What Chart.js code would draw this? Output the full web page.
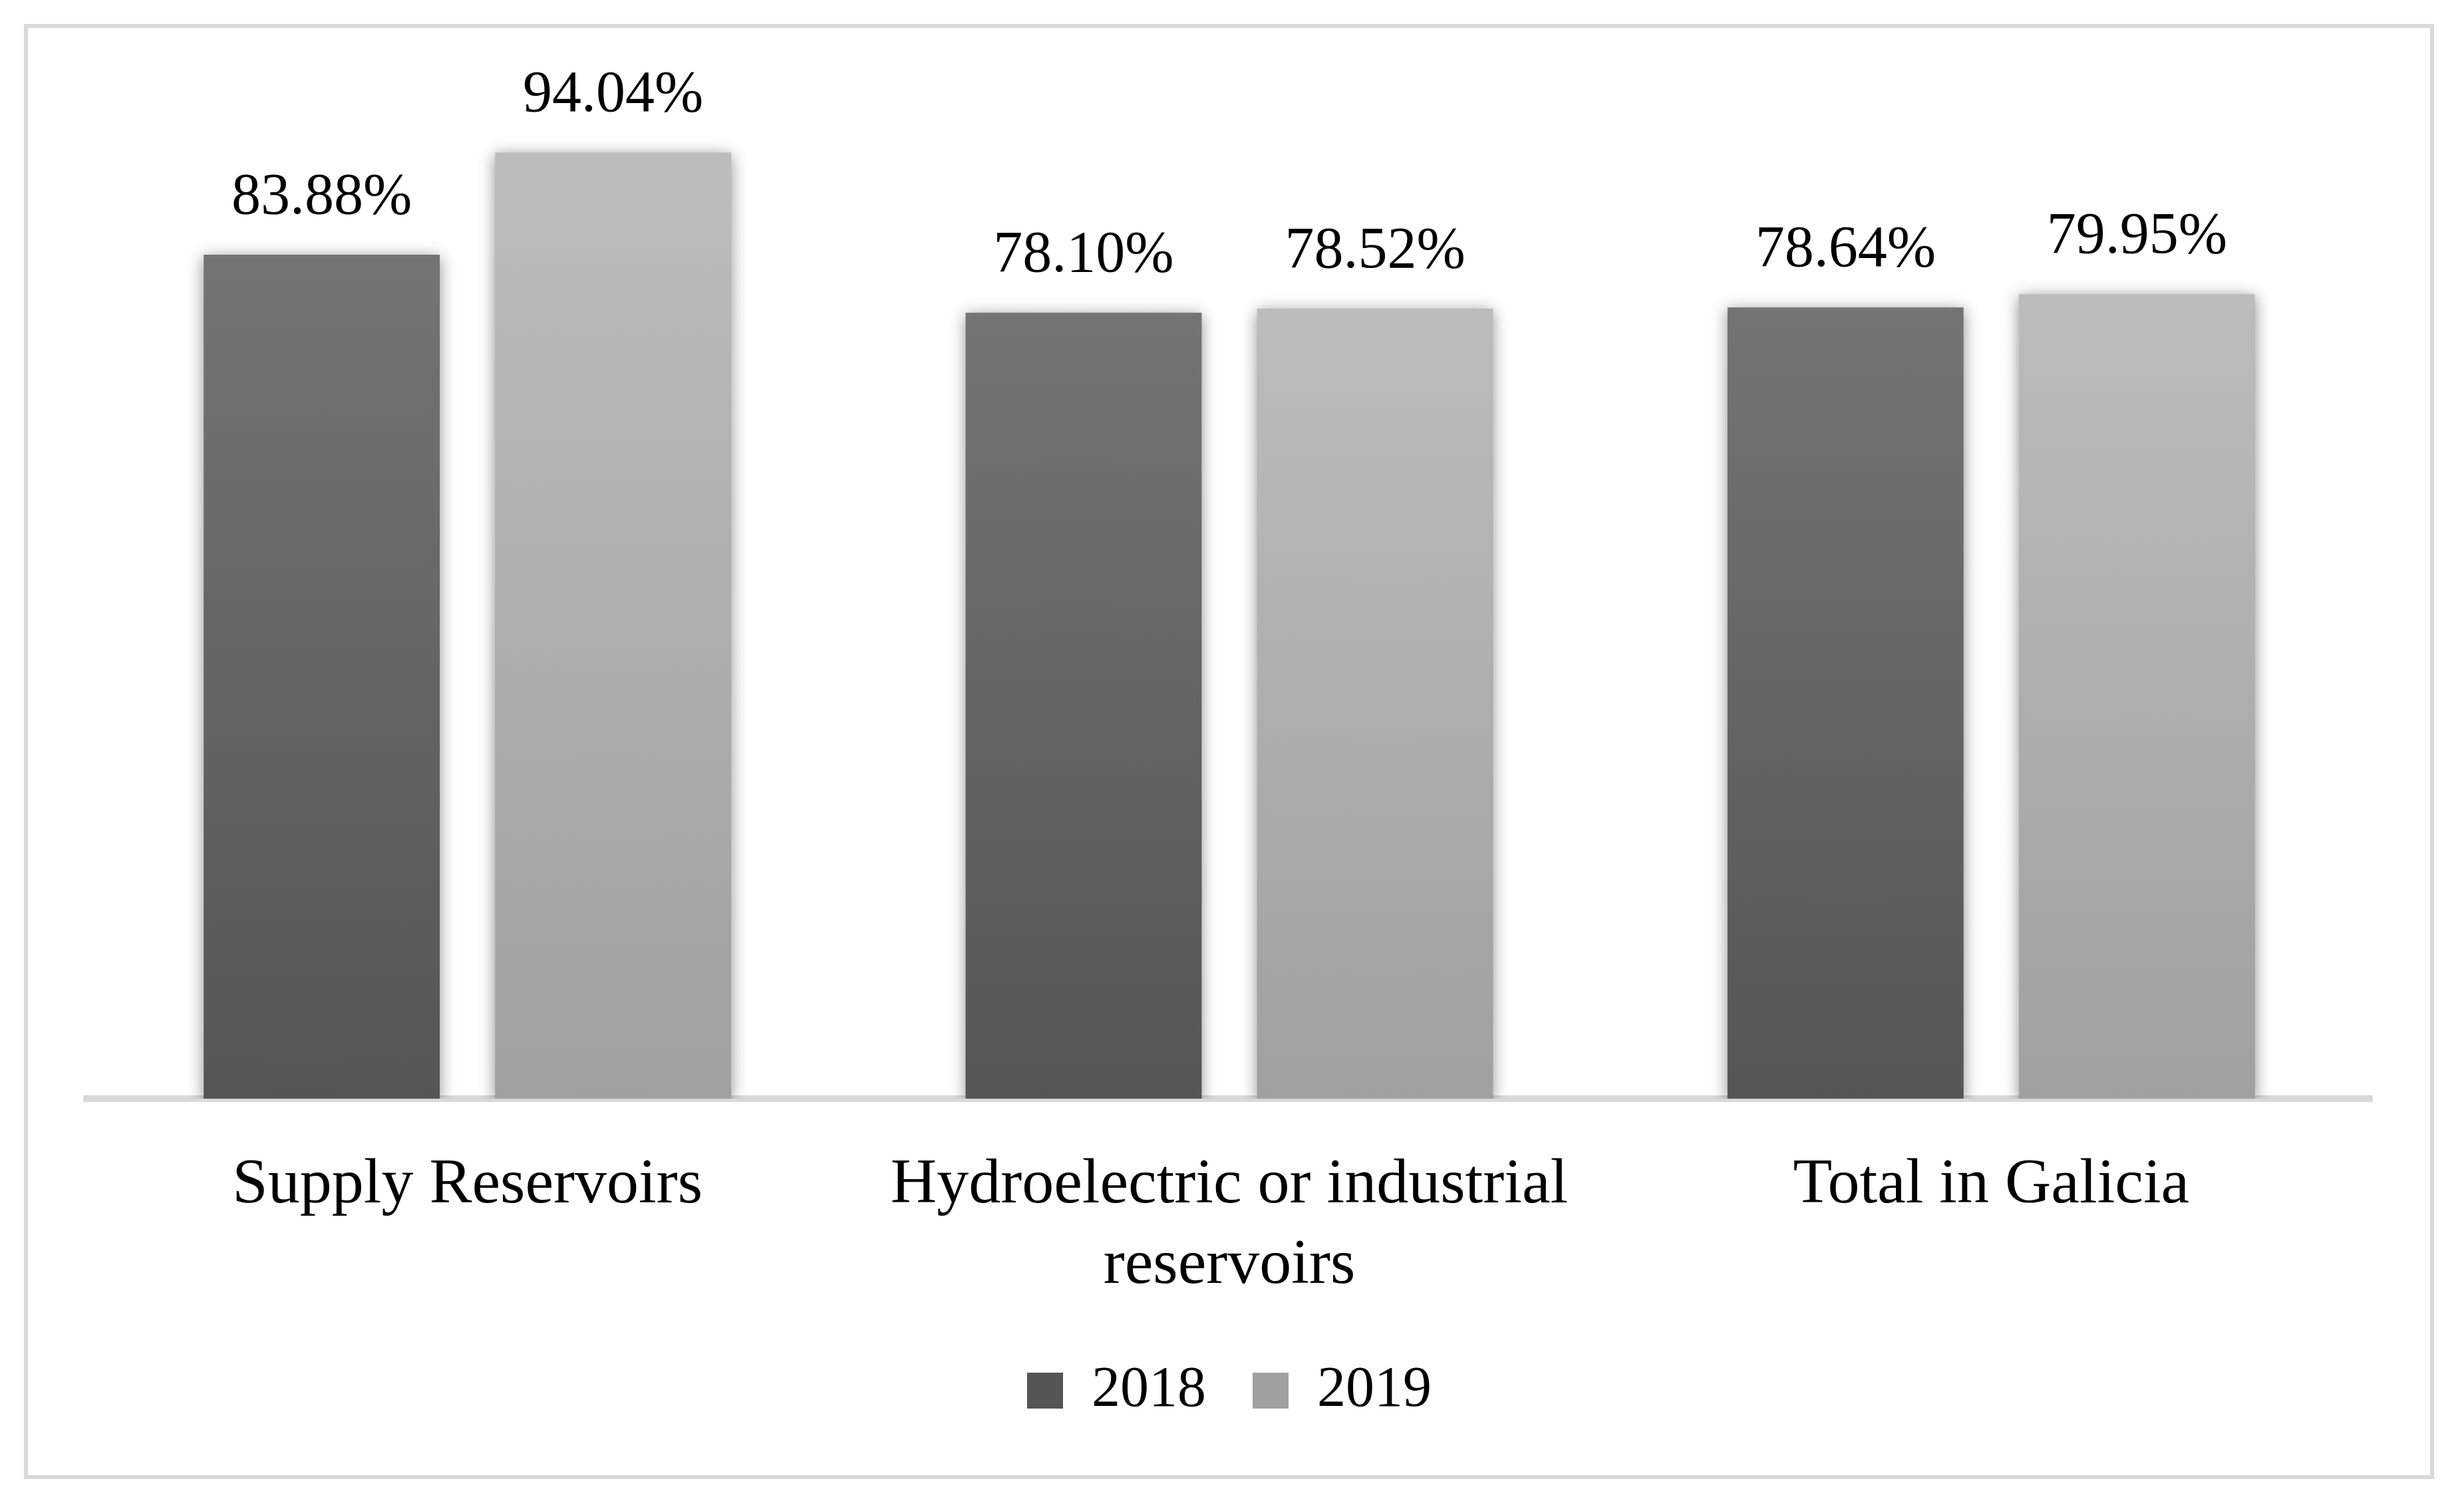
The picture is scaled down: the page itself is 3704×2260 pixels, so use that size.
<!DOCTYPE html>
<html>
<head>
<meta charset="utf-8">
<script src="https://cdn.jsdelivr.net/npm/chart.js@4.4.1/dist/chart.umd.min.js"></script>
<style>
  html, body { margin: 0; padding: 0; background: #fff; }
  #wrap { width: 3704px; height: 2260px; }
</style>
</head>
<body>
<div id="wrap"><canvas id="reservoirChart" width="3704" height="2260"></canvas></div>
<script>
const categories = ["Supply Reservoirs", ["Hydroelectric or industrial", "reservoirs"], "Total in Galicia"];
const seriesNames = ["2018", "2019"];
const values2018 = [83.88, 78.10, 78.64];
const values2019 = [94.04, 78.52, 79.95];

const serif = "'Liberation Serif', 'Times New Roman', serif";

// vertical gradient per bar, from its top down to the axis
function barGradient(top, bottom, flat) {
    return (ctx) => {
        const chart = ctx.chart;
        const area = chart.chartArea;
        if (!area || ctx.type !== "data") return flat;
        const y = chart.scales.y.getPixelForValue(ctx.raw);
        const g = chart.ctx.createLinearGradient(0, y, 0, area.bottom);
        g.addColorStop(0, top);
        g.addColorStop(1, bottom);
        return g;
    };
}

const framePlugin = {
    id: "frame",
    beforeDraw(chart) {
        const ctx = chart.ctx;
        ctx.save();
        ctx.fillStyle = "#fff";
        ctx.fillRect(0, 0, chart.width, chart.height);
        ctx.strokeStyle = "#d9d9d9";
        ctx.lineWidth = 6;
        ctx.strokeRect(39, 39, 3617, 2182);
        ctx.restore();
    }
};

const shadowPlugin = {
    id: "barShadow",
    beforeDatasetsDraw(chart) {
        const ctx = chart.ctx;
        ctx.save();
        ctx.shadowColor = "rgba(0,0,0,0.45)";
        ctx.shadowBlur = 22;
        ctx.shadowOffsetX = 0;
        ctx.shadowOffsetY = 4;
    },
    afterDatasetsDraw(chart) {
        chart.ctx.restore();
    }
};

const valueLabels = {
    id: "valueLabels",
    afterDatasetsDraw(chart) {
        const ctx = chart.ctx;
        ctx.save();
        ctx.font = "88px " + serif;
        ctx.fillStyle = "#000";
        ctx.textAlign = "center";
        ctx.textBaseline = "alphabetic";
        chart.data.datasets.forEach((ds, i) => {
            chart.getDatasetMeta(i).data.forEach((bar, j) => {
                ctx.fillText(ds.data[j].toFixed(2) + "%", bar.x, bar.y - 62);
            });
        });
        ctx.restore();
    }
};

new Chart(document.getElementById("reservoirChart"), {
    type: "bar",
    data: {
        labels: categories,
        datasets: [
            {
                label: seriesNames[0],
                data: values2018,
                backgroundColor: barGradient("#747474", "#555555", "#646464"),
                categoryPercentage: 0.765,
                barPercentage: 0.81
            },
            {
                label: seriesNames[1],
                data: values2019,
                backgroundColor: barGradient("#bcbcbc", "#a0a0a0", "#aeaeae"),
                categoryPercentage: 0.765,
                barPercentage: 0.81
            }
        ]
    },
    options: {
        responsive: false,
        devicePixelRatio: 1,
        animation: false,
        layout: {
            padding: { left: 130, right: 138, top: 139, bottom: 116 }
        },
        plugins: {
            legend: {
                position: "bottom",
                labels: {
                    boxWidth: 54,
                    boxHeight: 54,
                    padding: 70,
                    color: "#000",
                    font: { family: serif, size: 86 }
                }
            },
            tooltip: { enabled: false }
        },
        scales: {
            x: {
                z: 1,
                grid: { display: false, drawTicks: false },
                border: { display: true, color: "#d9d9d9", width: 10 },
                ticks: {
                    color: "#000",
                    padding: 70,
                    font: { family: serif, size: 96, lineHeight: 1.26 }
                },
                afterFit(scale) {
                    scale.height -= 56;
                }
            },
            y: {
                display: false,
                min: 0,
                max: 100
            }
        }
    },
    plugins: [framePlugin, shadowPlugin, valueLabels]
});
</script>
</body>
</html>
